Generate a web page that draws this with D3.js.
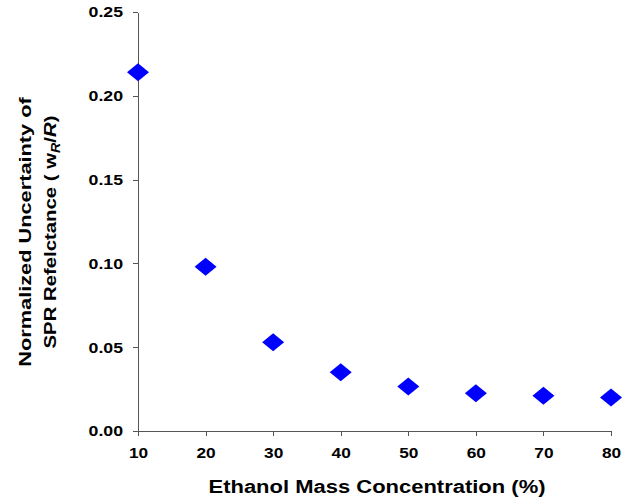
<!DOCTYPE html>
<html>
<head>
<meta charset="utf-8">
<script src="https://cdn.jsdelivr.net/npm/d3@7"></script>
<style>
  body { margin: 0; background: #fff; }
  .axis text { font-family: "Liberation Sans", Arial, sans-serif; font-weight: bold; font-size: 15px; fill: #000; }
  .axis path, .axis line { stroke: #555; shape-rendering: crispEdges; }
  .title { font-family: "Liberation Sans", Arial, sans-serif; font-weight: bold; fill: #000; }
</style>
</head>
<body>
<div id="chart"></div>
<script>
var concentration = [10, 20, 30, 40, 50, 60, 70, 80];
var uncertainty = [0.214, 0.098, 0.053, 0.035, 0.0265, 0.0225, 0.021, 0.020];
var xTicks = [10, 20, 30, 40, 50, 60, 70, 80];
var yTicks = [0, 0.05, 0.10, 0.15, 0.20, 0.25];

var W = 624, H = 504;
var margin = { top: 12, right: 13, bottom: 73, left: 138 };
var width = W - margin.left - margin.right,
  height = H - margin.top - margin.bottom;

var svg = d3.select('#chart').append('svg')
  .attr('width', W)
  .attr('height', H);

// the original text is drawn a bit wider than normal Arial
function stretch(sel, factor) {
  sel.each(function() {
    var w = this.getComputedTextLength();
    d3.select(this)
      .attr('textLength', w * factor)
      .attr('lengthAdjust', 'spacingAndGlyphs');
  });
}

var x = d3.scaleLinear().domain([10, 80]).range([0, width]);
var y = d3.scaleLinear().domain([0, 0.25]).range([height, 0]);

var g = svg.append('g')
  .attr('transform', 'translate(' + margin.left + ',' + margin.top + ')');

var xAxis = d3.axisBottom(x).tickValues(xTicks).tickSize(5).tickSizeOuter(0).tickPadding(8)
  .tickFormat(d3.format('d'));
var yAxis = d3.axisLeft(y).tickValues(yTicks).tickSize(5).tickSizeOuter(0).tickPadding(10)
  .tickFormat(d3.format('.2f'));

g.append('g')
  .attr('class', 'axis axis--x')
  .attr('transform', 'translate(0,' + height + ')')
  .call(xAxis)
  .selectAll('text').attr('dy', '0.95em')
  .call(stretch, 1.15);

g.append('g')
  .attr('class', 'axis axis--y')
  .call(yAxis)
  .selectAll('text')
  .call(stretch, 1.18);

// diamond markers
var data = concentration.map(function(c, i) { return { c: c, u: uncertainty[i] }; });
var dw = 11, dh = 9;
g.selectAll('.pt')
  .data(data)
  .enter()
  .append('path')
  .attr('class', 'pt')
  .attr('d', 'M0,' + (-dh) + 'L' + dw + ',0L0,' + dh + 'L' + (-dw) + ',0Z')
  .attr('transform', function(d) { return 'translate(' + x(d.c) + ',' + y(d.u) + ')'; })
  .attr('fill', '#0000ff');

// x title
svg.append('text')
  .attr('class', 'title')
  .attr('x', 377)
  .attr('y', 493)
  .attr('text-anchor', 'middle')
  .style('font-size', '18px')
  .attr('textLength', 337)
  .attr('lengthAdjust', 'spacingAndGlyphs')
  .text('Ethanol Mass Concentration (%)');

// y title, two lines, each scaled to the original length
function yLine(bx, len) {
  var t = svg.append('text')
    .attr('class', 'title')
    .attr('text-anchor', 'middle')
    .style('font-size', '17px');
  return { t: t, bx: bx, len: len };
}
var line1 = yLine(31, 270);
line1.t.text('Normalized Uncertainty of');
var line2 = yLine(56, 233);
line2.t.append('tspan').text('SPR Refelctance ( w');
line2.t.append('tspan').attr('dy', 4).style('font-size', '12px').style('font-style', 'italic').text('R');
line2.t.append('tspan').attr('dy', -4).text('/');
line2.t.append('tspan').style('font-style', 'italic').text('R');
line2.t.append('tspan').text(')');

[line1, line2].forEach(function(l) {
  var w = l.t.node().getBBox().width;
  l.t.attr('transform', 'translate(' + l.bx + ',232) rotate(-90) scale(' + (l.len / w) + ',1)');
});
</script>
</body>
</html>
